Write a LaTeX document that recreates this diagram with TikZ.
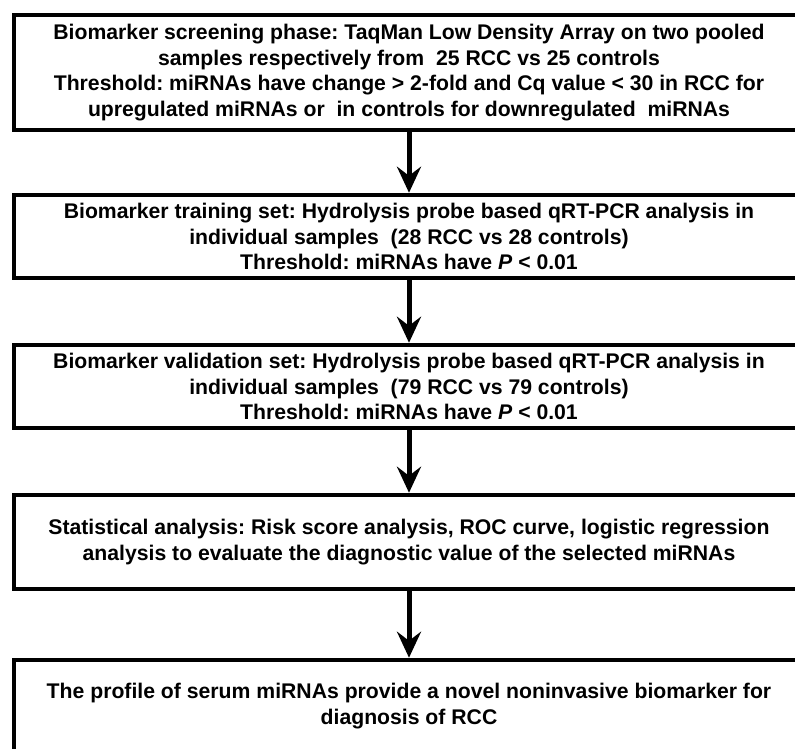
\documentclass[tikz,border=0pt]{standalone}
\usepackage{fontspec}
\setmainfont{Liberation Sans}
\usetikzlibrary{arrows.meta}
\frenchspacing
\begin{document}
\begin{tikzpicture}[x=1pt,y=-1pt,
  		stage/.style={draw,line width=4.5pt,minimum width=790pt,align=center,
  			font=\fontsize{21.2}{25.5}\selectfont\bfseries,inner sep=0pt},
  		flow/.style={line width=5pt,-{Stealth[length=26pt,width=24pt,inset=9pt]}}]
  		\useasboundingbox (0,0) rectangle (795,748);
  		\node[stage,minimum height=115pt] (screen) at (409,72.5)
  			{Biomarker screening phase: TaqMan Low Density Array on two pooled\\
  			samples respectively from\ \ 25 RCC vs 25 controls\\
  			Threshold: miRNAs have change > 2-fold and Cq value < 30 in RCC for\\
  			upregulated miRNAs or\ \ in controls for downregulated\ \ miRNAs};
  		\node[stage,minimum height=83pt] (train) at (409,236.5)
  			{Biomarker training set: Hydrolysis probe based qRT-PCR analysis in\\
  			individual samples\ \ (28 RCC vs 28 controls)\\
  			Threshold: miRNAs have \textit{P} < 0.01};
  		\node[stage,minimum height=83pt] (valid) at (409,386.5)
  			{Biomarker validation set: Hydrolysis probe based qRT-PCR analysis in\\
  			individual samples\ \ (79 RCC vs 79 controls)\\
  			Threshold: miRNAs have \textit{P} < 0.01};
  		\node[stage,minimum height=94pt] (stats) at (409,542)
  			{Statistical analysis: Risk score analysis, ROC curve, logistic regression\\
  			analysis to evaluate the diagnostic value of the selected miRNAs};
  		\node[stage,minimum height=92pt] (profile) at (409,706)
  			{The profile of serum miRNAs provide a novel noninvasive biomarker for\\
  			diagnosis of RCC};
  		% arrows between the stages
  		\draw[flow] (screen) -- (train);
  		\draw[flow] (train) -- (valid);
  		\draw[flow] (valid) -- (stats);
  		\draw[flow] (stats) -- (profile);
\end{tikzpicture}
\end{document}
